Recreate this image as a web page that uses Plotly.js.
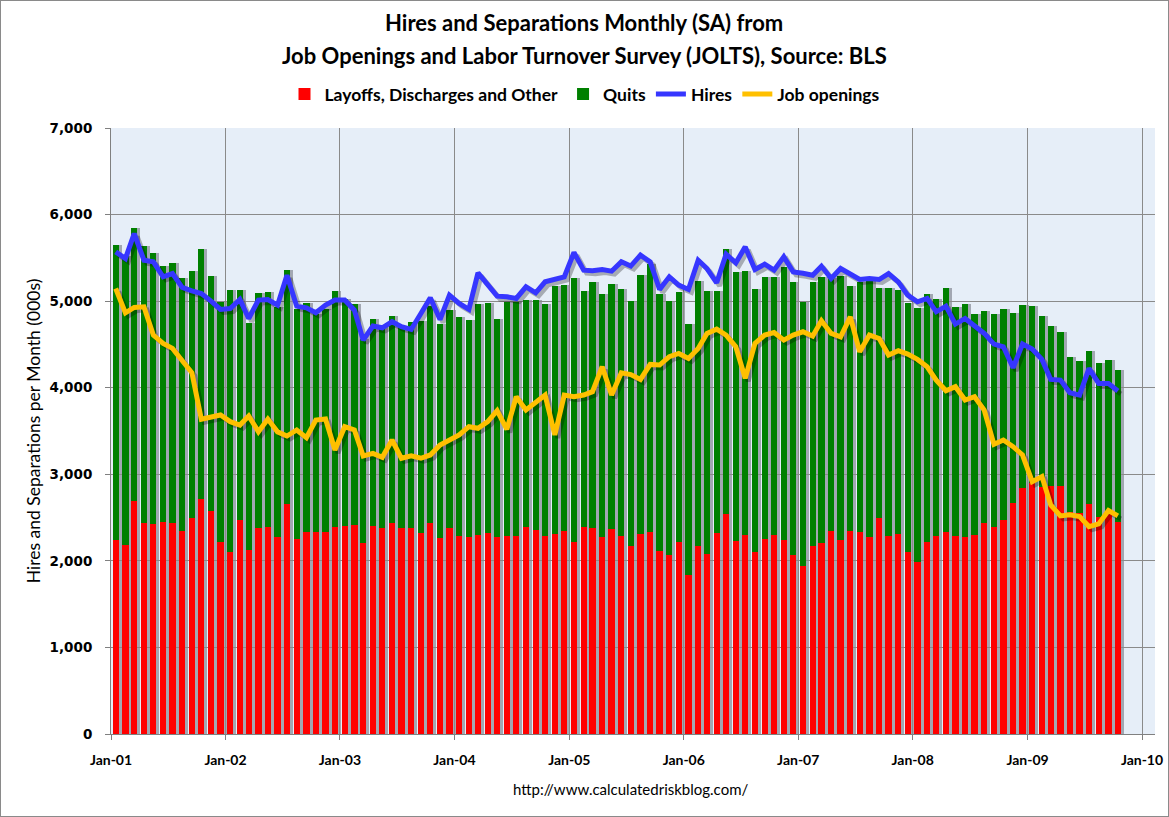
<!DOCTYPE html>
<html>
<head>
<meta charset="utf-8">
<script src="https://cdn.plot.ly/plotly-3.0.1.min.js"></script>
<style>
  html, body { margin: 0; padding: 0; background: #ffffff; }
  #wrap { position: relative; width: 1169px; height: 817px; }
  #chart { width: 1169px; height: 817px; }
  #frame { position: absolute; left: 0; top: 0; width: 1167px; height: 815px; border: 1px solid #8a8a8a; pointer-events: none; }
</style>
</head>
<body>
<div id="wrap"><div id="chart"></div><div id="frame"></div></div>
<script>
// ---- Data (thousands, monthly SA), Jan 2001 .. Oct 2009 ----
const startYear = 2001;
const startMonth = 1;

const layoffs = [
  2243, 2185, 2692, 2442, 2427, 2454, 2442, 2350, 2500, 2715, 2577, 2223,
  2108, 2473, 2127, 2377, 2396, 2281, 2654, 2254, 2339, 2339, 2339, 2396,
  2404, 2415, 2212, 2404, 2377, 2442, 2377, 2377, 2319, 2435, 2269, 2385,
  2292, 2281, 2300, 2327, 2281, 2292, 2292, 2396, 2358, 2292, 2308, 2350,
  2223, 2396, 2385, 2281, 2369, 2292, 2175, 2312, 2339, 2119, 2062, 2223,
  1831, 2177, 2077, 2327, 2542, 2235, 2300, 2108, 2254, 2300, 2243, 2062,
  1935, 2177, 2204, 2350, 2243, 2350, 2339, 2281, 2500, 2292, 2312, 2108,
  1992, 2223, 2292, 2339, 2292, 2281, 2300, 2442, 2396, 2473, 2665, 2846,
  2896, 2858, 2865, 2865, 2569, 2550, 2654, 2512, 2550, 2454
];

const quits = [
  3403, 3335, 3158, 3193, 3133, 2950, 2998, 2915, 2846, 2885, 2713, 2769,
  3019, 2654, 2615, 2715, 2708, 2649, 2704, 2661, 2634, 2511, 2576, 2724,
  2616, 2550, 2348, 2388, 2346, 2385, 2327, 2377, 2450, 2507, 2462, 2511,
  2527, 2500, 2665, 2646, 2511, 2700, 2700, 2616, 2654, 2673, 2865, 2835,
  3042, 2719, 2834, 2796, 2827, 2846, 2825, 2988, 3088, 2962, 2938, 2885,
  2904, 3054, 3042, 2792, 3066, 3103, 3050, 3030, 3023, 2977, 3149, 3161,
  3057, 3042, 3073, 2920, 3045, 2823, 2884, 2950, 2654, 2862, 2815, 2873,
  2931, 2858, 2735, 2815, 2643, 2684, 2550, 2443, 2454, 2435, 2193, 2104,
  2046, 1969, 1847, 1777, 1789, 1754, 1769, 1773, 1765, 1750
];

const hires = [
  5569, 5492, 5781, 5473, 5454, 5281, 5319, 5158, 5119, 5088, 5000, 4904,
  4915, 5019, 4800, 5012, 5019, 4954, 5300, 4942, 4923, 4865, 4954, 5012,
  5012, 4896, 4550, 4712, 4692, 4762, 4704, 4673, 4858, 5038, 4788, 5069,
  4973, 4904, 5327, 5185, 5058, 5050, 5031, 5165, 5096, 5223, 5250, 5281,
  5562, 5358, 5350, 5365, 5346, 5454, 5405, 5531, 5454, 5135, 5281, 5185,
  5135, 5473, 5377, 5212, 5542, 5442, 5627, 5365, 5427, 5358, 5512, 5338,
  5323, 5300, 5404, 5262, 5377, 5319, 5250, 5262, 5250, 5319, 5223, 5069,
  4992, 5031, 4877, 4942, 4735, 4800, 4708, 4627, 4504, 4473, 4231, 4504,
  4446, 4327, 4096, 4088, 3942, 3915, 4223, 4050, 4050, 3962
];

const jobOpenings = [
  5146, 4865, 4927, 4935, 4608, 4512, 4454, 4319, 4173, 3635, 3658, 3685,
  3608, 3569, 3673, 3492, 3638, 3490, 3442, 3512, 3423, 3627, 3638, 3281,
  3550, 3512, 3212, 3242, 3196, 3396, 3185, 3212, 3185, 3223, 3338, 3396,
  3454, 3550, 3531, 3608, 3735, 3519, 3896, 3742, 3838, 3915, 3454, 3915,
  3896, 3915, 3954, 4242, 3915, 4173, 4152, 4096, 4269, 4262, 4358, 4396,
  4338, 4454, 4627, 4677, 4608, 4473, 4108, 4512, 4608, 4638, 4550, 4608,
  4646, 4596, 4773, 4627, 4588, 4819, 4415, 4608, 4569, 4377, 4427, 4388,
  4327, 4242, 4088, 3965, 4012, 3858, 3896, 3742, 3346, 3396, 3319, 3223,
  2915, 2973, 2646, 2519, 2531, 2512, 2396, 2427, 2581, 2519
];

const seriesNames = ['Layoffs, Discharges and Other', 'Quits', 'Hires', 'Job openings'];
const titleLines = ['Hires and Separations Monthly (SA) from',
                    'Job Openings and Labor Turnover Survey (JOLTS), Source: BLS'];
const yTitle = 'Hires and Separations per Month (000s)';
const sourceText = 'http://www.calculatedriskblog.com/';

// month categories (mid-month dates)
const months = [];
for (let i = 0; i < layoffs.length; i++) {
  const y = startYear + Math.floor((startMonth - 1 + i) / 12);
  const m = (startMonth - 1 + i) % 12 + 1;
  months.push(y + '-' + String(m).padStart(2, '0') + '-16');
}

// ---- Geometry ----
const W = 1169, H = 817;
const L = 111, R = 1155, T = 128, B = 734, S = 3;
const pw = (R + S) - L, ph = (B + S) - T;
const px = v => (v - L) / pw;
const py = v => (B + S - v) / ph;

const t0 = Date.UTC(2001, 0, 1), t1 = Date.UTC(2010, 0, 1);
const xEnd = t1 + (t1 - t0) * (R - 1142) / (1142 - L);
const xRange = [new Date(t0).toISOString(), new Date(xEnd).toISOString()];
const yRange = [0, 7000];

const mainX = [0, px(R)], mainY = [py(B), 1];
const shX = [px(L + S), 1], shY = [0, py(T + S)];

const DAY = 86400000;
const barW = 20 * DAY;

const shadowBar = 'rgba(70,70,80,0.42)';
const shadowLine = 'rgba(0,0,0,0.28)';

const traces = [
  // bar shadows (subplot xy)
  { type: 'bar', x: months, y: layoffs, width: barW, marker: { color: shadowBar }, xaxis: 'x', yaxis: 'y', showlegend: false, hoverinfo: 'skip' },
  { type: 'bar', x: months, y: quits, width: barW, marker: { color: shadowBar }, xaxis: 'x', yaxis: 'y', showlegend: false, hoverinfo: 'skip' },
  // main bars (x2y2)
  { type: 'bar', name: seriesNames[0], x: months, y: layoffs, width: barW, marker: { color: '#ff0000' }, xaxis: 'x2', yaxis: 'y2' },
  { type: 'bar', name: seriesNames[1], x: months, y: quits, width: barW, marker: { color: '#008000' }, xaxis: 'x2', yaxis: 'y2' },
  // line shadows (x3y3)
  { type: 'scatter', mode: 'lines', x: months, y: hires, line: { color: shadowLine, width: 5 }, xaxis: 'x3', yaxis: 'y3', showlegend: false, hoverinfo: 'skip' },
  { type: 'scatter', mode: 'lines', x: months, y: jobOpenings, line: { color: shadowLine, width: 5 }, xaxis: 'x3', yaxis: 'y3', showlegend: false, hoverinfo: 'skip' },
  // main lines (x4y4)
  { type: 'scatter', mode: 'lines', name: seriesNames[2], x: months, y: hires, line: { color: '#3636ff', width: 5 }, xaxis: 'x4', yaxis: 'y4' },
  { type: 'scatter', mode: 'lines', name: seriesNames[3], x: months, y: jobOpenings, line: { color: '#ffc000', width: 5 }, xaxis: 'x4', yaxis: 'y4' }
];

const hiddenX = (dom, anchor) => ({ type: 'date', range: xRange, domain: dom, anchor: anchor, visible: false, fixedrange: true });
const hiddenY = (dom, anchor) => ({ range: yRange, domain: dom, anchor: anchor, visible: false, fixedrange: true });

const layout = {
  width: W, height: H,
  margin: { l: L, r: W - (R + S), t: T, b: H - (B + S), pad: 0 },
  paper_bgcolor: '#ffffff',
  plot_bgcolor: 'rgba(0,0,0,0)',
  barmode: 'stack',
  showlegend: true,
  font: { family: 'Lato, "DejaVu Sans", sans-serif', color: '#000000' },
  xaxis: hiddenX(shX, 'y'),
  yaxis: hiddenY(mainY, 'x'),
  xaxis2: {
    type: 'date', range: xRange, domain: mainX, anchor: 'y2',
    tick0: '2001-01-01', dtick: 'M12', tickformat: '%b-%y',
    ticks: 'outside', ticklen: 5, tickcolor: '#808080', ticklabelstandoff: 8,
    showgrid: true, gridcolor: '#8a8a8a', gridwidth: 1,
    showline: true, linecolor: '#808080', linewidth: 1,
    tickfont: { family: 'Lato, sans-serif', size: 14, color: '#000000', weight: 'bold' },
    fixedrange: true
  },
  yaxis2: {
    range: yRange, domain: mainY, anchor: 'x2',
    dtick: 1000, tick0: 0, tickformat: ',d',
    ticks: 'outside', ticklen: 5, tickcolor: '#808080', ticklabelstandoff: 10,
    showgrid: true, gridcolor: '#8a8a8a', gridwidth: 1,
    showline: true, linecolor: '#808080', linewidth: 1, zeroline: false,
    tickfont: { family: '"DejaVu Sans", Verdana, sans-serif', size: 13.5, color: '#000000', weight: 'bold' },
    title: { text: yTitle, standoff: 4, font: { family: 'Lato, sans-serif', size: 17.5, color: '#000000' } },
    fixedrange: true
  },
  xaxis3: hiddenX(shX, 'y3'),
  yaxis3: hiddenY(shY, 'x3'),
  xaxis4: hiddenX(mainX, 'y4'),
  yaxis4: hiddenY(mainY, 'x4'),
  legend: {
    orientation: 'h', x: px(585), xanchor: 'center', y: py(94), yanchor: 'middle',
    font: { family: 'Lato, sans-serif', size: 17.5, color: '#000000', weight: 'bold' },
    bgcolor: 'rgba(0,0,0,0)', traceorder: 'normal'
  },
  shapes: [
    { type: 'rect', xref: 'paper', yref: 'paper', x0: 0, x1: px(R), y0: py(B), y1: 1,
      fillcolor: '#e6eef8', line: { width: 0 }, layer: 'below' }
  ],
  annotations: [
    { text: '<b>' + titleLines[0] + '</b>', xref: 'paper', yref: 'paper', x: px(584), y: py(22),
      xanchor: 'center', yanchor: 'middle', showarrow: false,
      font: { family: 'Lato, sans-serif', size: 22, color: '#000000' } },
    { text: '<b>' + titleLines[1] + '</b>', xref: 'paper', yref: 'paper', x: px(584), y: py(55),
      xanchor: 'center', yanchor: 'middle', showarrow: false,
      font: { family: 'Lato, sans-serif', size: 22, color: '#000000' } },
    { text: sourceText, xref: 'paper', yref: 'paper', x: px(630), y: py(789),
      xanchor: 'center', yanchor: 'middle', showarrow: false,
      font: { family: 'Lato, sans-serif', size: 15, color: '#000000' } }
  ]
};

Plotly.newPlot('chart', traces, layout, { displayModeBar: false, staticPlot: true });
</script>
</body>
</html>
